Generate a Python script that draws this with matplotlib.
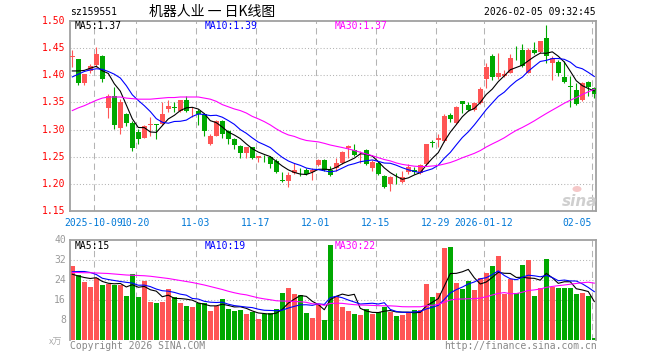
import matplotlib
matplotlib.use('Agg')
import matplotlib.pyplot as plt
from matplotlib.patches import Ellipse
import numpy as np
import pandas as pd

code = 'sz159551'
title = '机器人业 一 日K线图'
timestamp = '2026-02-05 09:32:45'

opens = [1.433, 1.4295, 1.385, 1.408, 1.419, 1.436, 1.340, 1.362, 1.303, 1.328,
         1.313, 1.295, 1.285, 1.309, 1.310, 1.310, 1.338, 1.341, 1.335, 1.354,
         1.332, 1.334, 1.329, 1.273, 1.289, 1.316, 1.297, 1.282, 1.269, 1.256,
         1.267, 1.248, 1.250, 1.249, 1.242, 1.208, 1.206, 1.220, 1.222, 1.226,
         1.222, 1.234, 1.244, 1.226, 1.2295, 1.239, 1.2655, 1.262, 1.256, 1.263,
         1.2295, 1.239, 1.214, 1.200, 1.204, 1.203, 1.222, 1.226, 1.220, 1.236,
         1.276, 1.280, 1.279, 1.3275, 1.3115, 1.352, 1.346, 1.336, 1.349, 1.394,
         1.4357, 1.397, 1.399, 1.405, 1.438, 1.4457, 1.405, 1.4475, 1.4426, 1.468,
         1.422, 1.425, 1.397, 1.380, 1.3736, 1.354, 1.388, 1.3767]
highs = [1.447, 1.430, 1.403, 1.420, 1.452, 1.437, 1.366, 1.378, 1.356, 1.331,
         1.315, 1.301, 1.309, 1.323, 1.311, 1.351, 1.354, 1.351, 1.354, 1.361,
         1.341, 1.338, 1.330, 1.292, 1.317, 1.317, 1.300, 1.285, 1.272, 1.268,
         1.268, 1.252, 1.254, 1.251, 1.245, 1.222, 1.222, 1.238, 1.230, 1.230,
         1.230, 1.245, 1.245, 1.232, 1.248, 1.261, 1.271, 1.273, 1.260, 1.264,
         1.244, 1.242, 1.217, 1.214, 1.220, 1.224, 1.236, 1.231, 1.236, 1.274,
         1.281, 1.292, 1.329, 1.330, 1.344, 1.352, 1.350, 1.350, 1.378, 1.422,
         1.439, 1.441, 1.410, 1.439, 1.454, 1.457, 1.451, 1.462, 1.464, 1.492,
         1.435, 1.428, 1.426, 1.398, 1.385, 1.388, 1.389, 1.378]
lows = [1.416, 1.383, 1.382, 1.405, 1.416, 1.387, 1.321, 1.301, 1.292, 1.306,
        1.260, 1.273, 1.284, 1.288, 1.282, 1.308, 1.332, 1.332, 1.333, 1.332,
        1.323, 1.308, 1.288, 1.272, 1.288, 1.285, 1.273, 1.264, 1.248, 1.248,
        1.245, 1.241, 1.240, 1.230, 1.220, 1.203, 1.195, 1.218, 1.214, 1.216,
        1.207, 1.232, 1.224, 1.215, 1.224, 1.236, 1.248, 1.251, 1.239, 1.235,
        1.223, 1.217, 1.193, 1.187, 1.200, 1.201, 1.218, 1.219, 1.218, 1.235,
        1.267, 1.267, 1.278, 1.314, 1.311, 1.330, 1.334, 1.334, 1.347, 1.377,
        1.392, 1.394, 1.397, 1.404, 1.429, 1.416, 1.404, 1.439, 1.441, 1.423,
        1.392, 1.398, 1.385, 1.341, 1.346, 1.353, 1.362, 1.359]
closes = [1.435, 1.3866, 1.403, 1.418, 1.440, 1.394, 1.362, 1.308, 1.350, 1.313,
          1.266, 1.282, 1.307, 1.310, 1.309, 1.328, 1.344, 1.340, 1.354, 1.334,
          1.333, 1.328, 1.298, 1.289, 1.316, 1.292, 1.282, 1.271, 1.256, 1.267,
          1.248, 1.251, 1.249, 1.236, 1.222, 1.206, 1.216, 1.225, 1.221, 1.218,
          1.226, 1.244, 1.226, 1.217, 1.239, 1.259, 1.269, 1.2525, 1.257, 1.236,
          1.241, 1.218, 1.195, 1.213, 1.203, 1.213, 1.231, 1.222, 1.234, 1.273,
          1.275, 1.284, 1.3245, 1.3196, 1.3425, 1.3475, 1.336, 1.349, 1.375, 1.416,
          1.397, 1.405, 1.402, 1.431, 1.437, 1.4177, 1.4457, 1.4407, 1.463, 1.4357,
          1.431, 1.405, 1.387, 1.379, 1.3475, 1.386, 1.3786, 1.365]
volumes = [29.5, 26.0, 23.1, 21.3, 24.7, 22.0, 22.4, 22.0, 22.0, 17.7,
           26.5, 17.3, 23.7, 15.3, 14.9, 15.3, 20.5, 17.3, 14.9, 13.7,
           13.3, 14.9, 14.7, 11.7, 13.7, 16.5, 12.5, 11.7, 12.1, 10.5,
           11.3, 8.5, 10.5, 10.9, 12.5, 18.9, 20.9, 18.5, 18.1, 10.9,
           8.9, 14.5, 8.1, 38.2, 17.7, 13.3, 11.7, 10.5, 10.1, 12.5,
           10.5, 11.3, 13.3, 11.3, 9.7, 10.1, 11.3, 12.1, 12.1, 22.5,
           17.3, 18.9, 36.9, 37.3, 22.9, 20.4, 23.7, 20.1, 24.9, 26.9,
           29.7, 33.7, 18.3, 24.5, 18.9, 30.1, 32.1, 17.7, 20.9, 32.5,
           21.3, 20.9, 20.9, 20.9, 18.5, 18.9, 17.7, 0.9]

# moving-average values at the left edge (their history lies before the window)
ma5_head = [1.408, 1.408, 1.409, 1.413]
ma10_head = [1.397, 1.402, 1.407, 1.410, 1.412, 1.411, 1.407, 1.402, 1.395]
ma30_head = [1.335, 1.340, 1.344, 1.349, 1.354, 1.358, 1.360, 1.360, 1.360, 1.358,
             1.357, 1.356, 1.356, 1.356, 1.357, 1.358, 1.359, 1.359, 1.360, 1.360,
             1.360, 1.360, 1.358, 1.356, 1.352, 1.346, 1.342, 1.338, 1.335]
vma5_head = [26.3, 25.6, 25.0, 24.6]
vma10_head = [27.3, 27.4, 27.4, 27.0, 26.2, 24.7, 24.2, 23.8, 23.4]
vma30_head = [27.0, 27.0, 26.9, 26.9, 26.8, 26.7, 26.6, 26.4, 26.2, 26.0,
              25.9, 25.8, 25.7, 25.5, 25.2, 24.9, 24.6, 24.2, 23.8, 23.4,
              23.0, 22.5, 22.0, 21.4, 20.8, 20.2, 19.5, 18.9, 18.4]

price_legend = ['MA5:1.37', 'MA10:1.39', 'MA30:1.37']
vol_legend = ['MA5:15', 'MA10:19', 'MA30:22']

date_idx = [4, 11, 21, 31, 41, 51, 61, 69, 87]
date_labels = ['2025-10-09', '10-20', '11-03', '11-17', '12-01', '12-15',
               '12-29', '2026-01-12', '02-05']
price_ticks = [1.15, 1.20, 1.25, 1.30, 1.35, 1.40, 1.45, 1.50]
vol_ticks = [8, 16, 24, 32, 40]

RED = '#ff5555'
GREEN = '#00a800'
GRID = '#b4b4b4'
FRAME = '#a0a0a0'
MONO = 'DejaVu Sans Mono'


def moving_avg(vals, n, head):
    s = pd.Series(vals, dtype=float).rolling(n).mean().to_numpy()
    s[:n - 1] = head
    return s


W, H = 660, 360
fig = plt.figure(figsize=(6.6, 3.6), dpi=100)
fig.patch.set_facecolor('white')


def fx(px):
    return px / W


def fy(py):
    return 1 - py / H


L, R = 70, 596
STEP = 6.0          # pixels per trading day
x0_px = 72.3        # pixel centre of the first candle
xlim = (-(x0_px - L) / STEP, -(x0_px - L) / STEP + (R - L) / STEP)

ax = fig.add_axes([fx(L), fy(211), (R - L) / W, (211 - 21) / H])
axv = fig.add_axes([fx(L), fy(340), (R - L) / W, (340 - 240) / H])

n = len(closes)
x = np.arange(n)
o = np.array(opens)
c = np.array(closes)
hi = np.array(highs)
lo = np.array(lows)
up = c >= o
cols = np.where(up, RED, GREEN)

grid_x = [i - 0.38 for i in date_idx]

for a in (ax, axv):
    a.set_xticks([])
    a.set_yticks([])
    for sp in a.spines.values():
        sp.set_color(FRAME)
        sp.set_linewidth(1.3)
    for gx in grid_x:
        a.axvline(gx, color=GRID, lw=0.75, ls=(0, (6, 4)), zorder=0)

axv.spines['bottom'].set_visible(False)

# price panel
for p in price_ticks[1:-1]:
    ax.axhline(p, color=GRID, lw=0.75, ls=(0, (1, 2)), zorder=0)

ax.vlines(x, lo, hi, colors=cols, lw=0.8, zorder=2)
body_h = np.maximum(np.abs(c - o), 0.0012)
ax.bar(x, body_h, bottom=np.minimum(o, c), width=0.76, color=cols,
       edgecolor='none', zorder=3)

ma5 = moving_avg(closes, 5, ma5_head)
ma10 = moving_avg(closes, 10, ma10_head)
ma30 = moving_avg(closes, 30, ma30_head)
ax.plot(x, ma5, color='black', lw=0.8, zorder=4)
ax.plot(x, ma10, color='#0000ff', lw=0.8, zorder=4)
ax.plot(x, ma30, color='#ff00ff', lw=0.8, zorder=4)
ax.set_ylim(1.15, 1.50)
ax.set_xlim(*xlim)

# volume panel
for v in vol_ticks[:-1]:
    axv.axhline(v, color=GRID, lw=0.75, ls=(0, (1, 2)), zorder=0)
axv.bar(x, volumes, width=0.82, color=cols, edgecolor='none', zorder=2)
vma5 = moving_avg(volumes, 5, vma5_head)
vma10 = moving_avg(volumes, 10, vma10_head)
vma30 = moving_avg(volumes, 30, vma30_head)
axv.plot(x, vma5, color='black', lw=0.8, zorder=4)
axv.plot(x, vma10, color='#0000ff', lw=0.8, zorder=4)
axv.plot(x, vma30, color='#ff00ff', lw=0.8, zorder=4)
axv.set_ylim(0, 40)
axv.set_xlim(*xlim)

# axis labels (red prices, gray volumes)
for p in price_ticks:
    ax.text(-0.008, p, f'{p:.2f}', transform=ax.get_yaxis_transform(),
            ha='right', va='center', color='red', fontsize=7, family=MONO)
for v in vol_ticks:
    axv.text(-0.008, v, f'{v}', transform=axv.get_yaxis_transform(),
             ha='right', va='center', color='#999999', fontsize=7, family=MONO)

# date labels
for i, (gx, lab) in enumerate(zip(grid_x, date_labels)):
    if i == len(date_labels) - 1:
        ax.text(gx - 0.1, -0.035, lab, transform=ax.get_xaxis_transform(),
                ha='right', va='top', color='#0078d7', fontsize=7, family=MONO)
    else:
        ax.text(gx, -0.035, lab, transform=ax.get_xaxis_transform(),
                ha='center', va='top', color='#0078d7', fontsize=7, family=MONO)

# header
fig.text(fx(70), fy(12), code, ha='left', va='center', fontsize=7, family=MONO)
fig.text(fx(149), fy(12), title, ha='left', va='center', fontsize=10,
         family=['Noto Sans CJK SC', 'DejaVu Sans'])
fig.text(fx(596), fy(12), timestamp, ha='right', va='center', fontsize=7,
         family=MONO)

# legends
ma_colors = ['black', '#0000ff', '#ff00ff']
leg_x = [75, 205, 335]
for t, col, lx in zip(price_legend, ma_colors, leg_x):
    fig.text(fx(lx), fy(26), t, ha='left', va='center', color=col,
             fontsize=7, family=MONO)
for t, col, lx in zip(vol_legend, ma_colors, leg_x):
    fig.text(fx(lx), fy(246), t, ha='left', va='center', color=col,
             fontsize=7, family=MONO)

# footer
fig.text(fx(62), fy(342), 'x万', ha='right', va='center', color='#aaaaaa',
         fontsize=6.5, family=['Noto Sans CJK SC', 'DejaVu Sans'])
fig.text(fx(70), fy(346), 'Copyright 2026 SINA.COM', ha='left', va='center',
         color='#888888', fontsize=7, family=MONO)
fig.text(fx(597), fy(346), 'http://finance.sina.com.cn', ha='right',
         va='center', color='#888888', fontsize=7, family=MONO)

# watermark
fig.text(fx(580), fy(202), 'sina', ha='center', va='center', color='#cfcfcf',
         fontsize=11, fontweight='bold', style='italic', family='DejaVu Sans')
fig.add_artist(Ellipse((fx(577), fy(189)), 9 / W, 6 / H,
                       transform=fig.transFigure, facecolor='#f5c8c8',
                       edgecolor='none'))

fig.savefig('out.png', dpi=100, facecolor='white')
